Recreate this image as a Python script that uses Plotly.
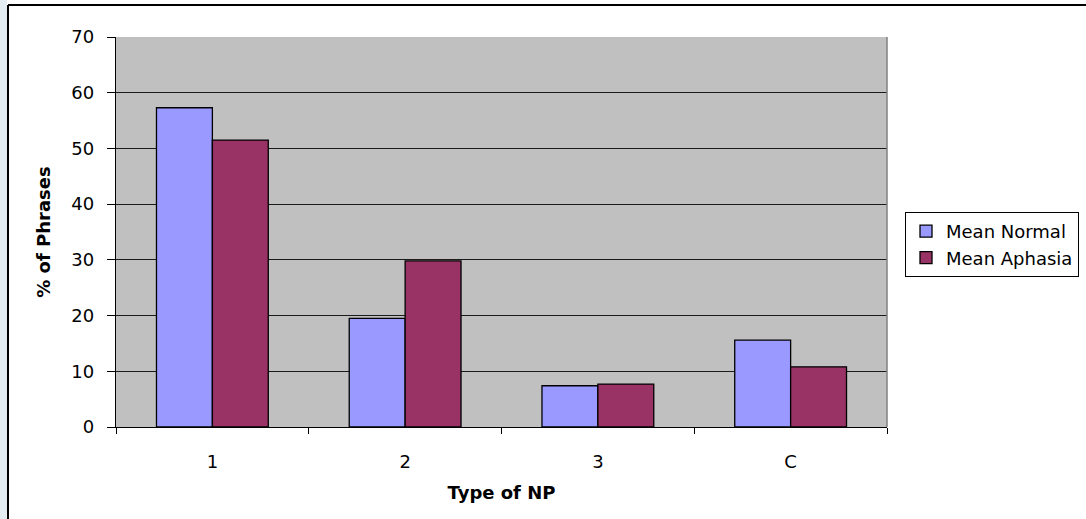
import plotly.graph_objects as go

# NP types and mean percentages per group
categories = ["1", "2", "3", "C"]
mean_normal = [57.3, 19.5, 7.4, 15.6]
mean_aphasia = [51.5, 29.8, 7.7, 10.8]

W, H = 1086, 519
L, R, T, B = 116, 199, 37, 92
pw = W - L - R
ph = H - T - B


def px_x(x):
    return (x - L) / pw


def px_y(y):
    return (H - B - y) / ph


font_family = "DejaVu Sans, Liberation Sans, sans-serif"
fs = 18

fig = go.Figure()
fig.add_trace(go.Bar(
    x=categories, y=mean_normal, name="Mean Normal",
    marker=dict(color="#9999FF", line=dict(color="#000000", width=1.3)),
))
fig.add_trace(go.Bar(
    x=categories, y=mean_aphasia, name="Mean Aphasia",
    marker=dict(color="#993366", line=dict(color="#000000", width=1.3)),
))

shapes = [
    # light strip on the far left
    dict(type="rect", xref="paper", yref="paper",
         x0=px_x(-2), x1=px_x(7), y0=px_y(H + 2), y1=px_y(-2),
         fillcolor="#E4EDF2", line=dict(width=0), layer="above"),
    # chart frame
    dict(type="line", xref="paper", yref="paper",
         x0=px_x(8), x1=px_x(W + 2), y0=px_y(5), y1=px_y(5),
         line=dict(color="#000000", width=2), layer="above"),
    dict(type="line", xref="paper", yref="paper",
         x0=px_x(8), x1=px_x(8), y0=px_y(5), y1=px_y(H + 2),
         line=dict(color="#000000", width=2), layer="above"),
    # plot-area right border
    dict(type="line", xref="paper", yref="paper",
         x0=1, x1=1, y0=0, y1=1,
         line=dict(color="#808080", width=1.5), layer="above"),
]

fig.update_layout(
    width=W, height=H,
    margin=dict(l=L, r=R, t=T, b=B, autoexpand=False),
    paper_bgcolor="#FFFFFF",
    plot_bgcolor="#C0C0C0",
    font=dict(family=font_family, size=fs, color="#000000"),
    barmode="group",
    bargap=0.42,
    bargroupgap=0,
    showlegend=True,
    legend=dict(
        x=px_x(905), y=px_y(212), xanchor="left", yanchor="top",
        bgcolor="#FFFFFF", bordercolor="#000000", borderwidth=1,
        font=dict(family=font_family, size=fs, color="#000000"),
        tracegroupgap=0, itemwidth=30,
    ),
    shapes=shapes,
)

fig.update_xaxes(
    type="category",
    showline=True, linecolor="#000000", linewidth=1.3,
    ticks="outside", tickson="boundaries", ticklen=6, tickcolor="#000000",
    tickfont=dict(size=fs),
    ticklabelstandoff=18,
    showgrid=False,
    title=dict(text="<b>Type of NP</b>", font=dict(size=fs), standoff=15),
)

fig.update_yaxes(
    range=[0, 70], dtick=10, tick0=0,
    showline=True, linecolor="#000000", linewidth=1.3,
    ticks="outside", ticklen=8, tickcolor="#000000",
    tickfont=dict(size=fs),
    ticklabelstandoff=9,
    showgrid=True, gridcolor="#1A1A1A", gridwidth=1,
    zeroline=False,
    title=dict(text="<b>% of Phrases</b>", font=dict(size=fs), standoff=16),
)

fig.write_html("out.html")
